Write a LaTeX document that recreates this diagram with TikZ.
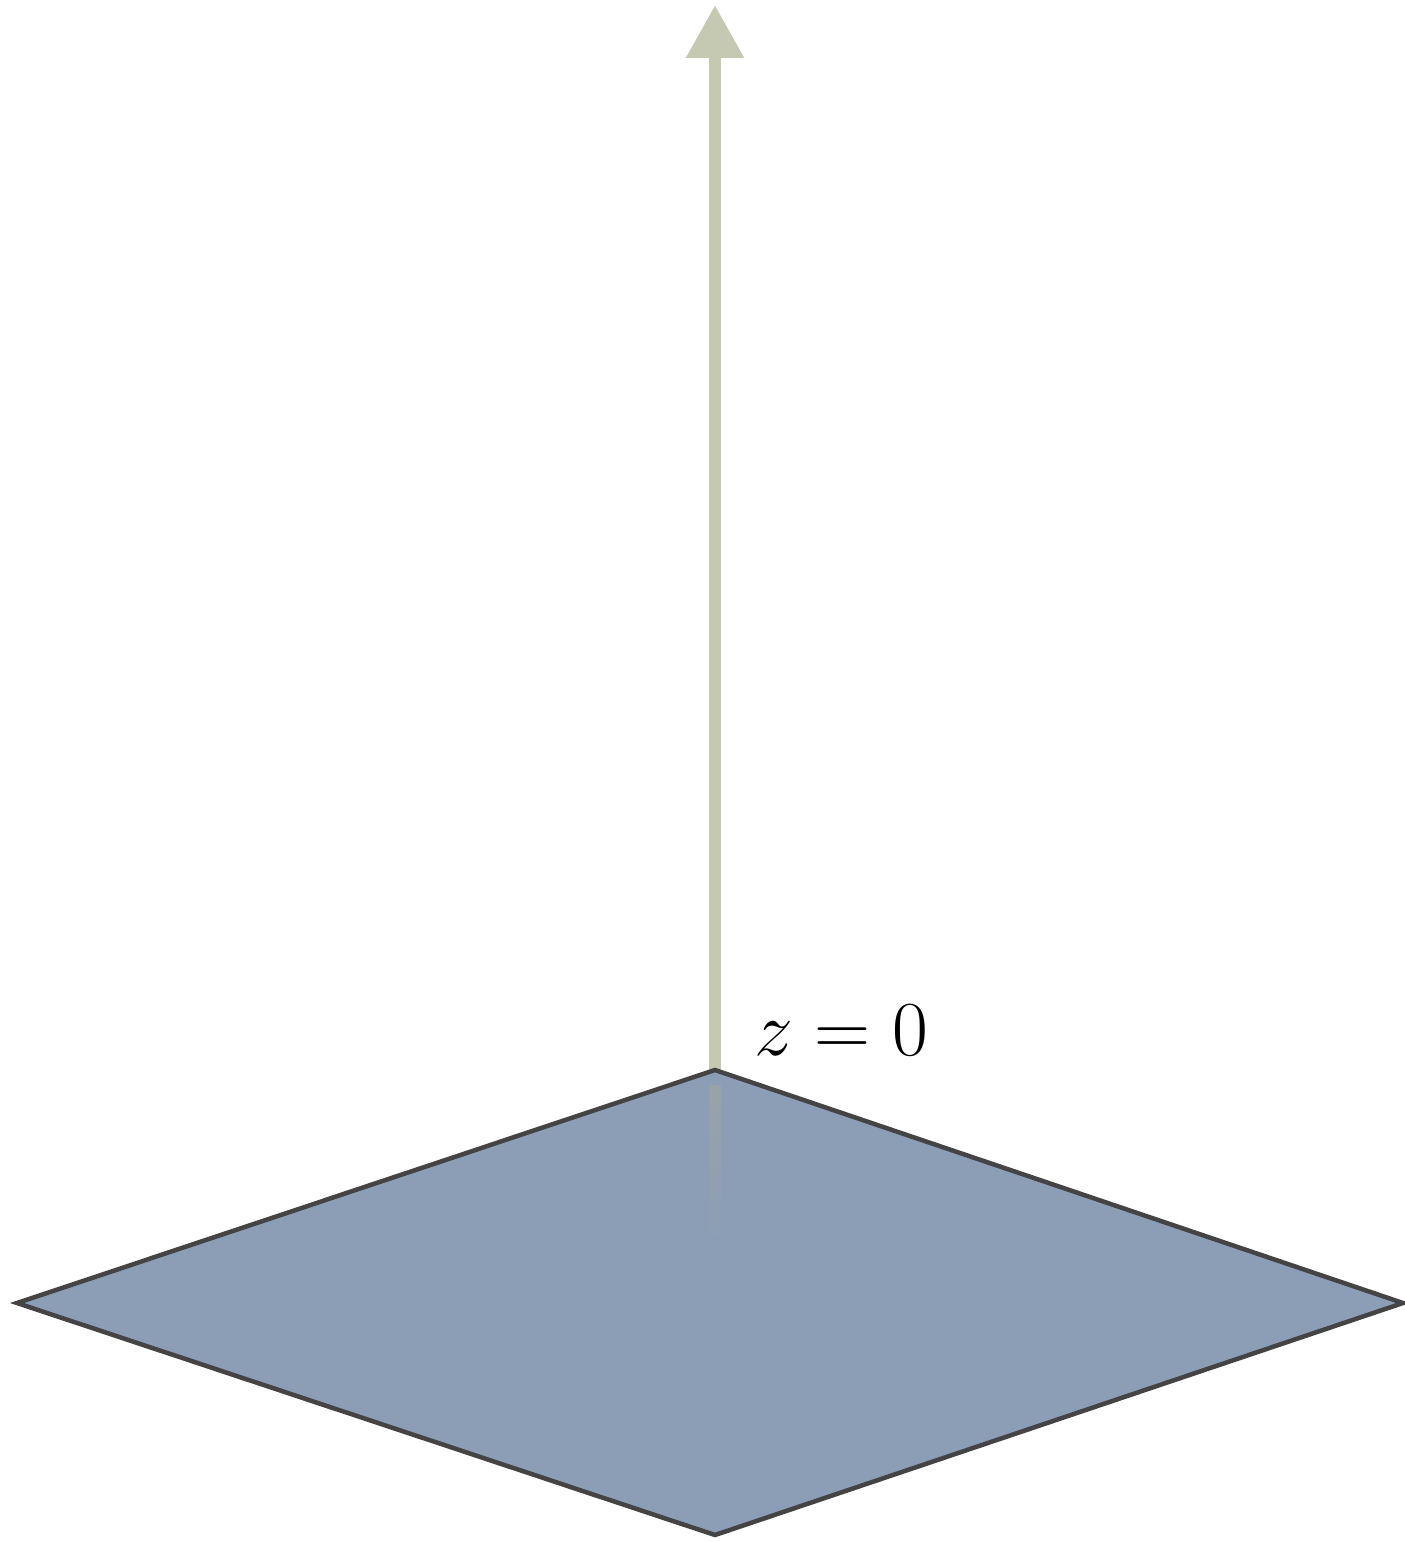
\documentclass[tikz,border=0pt]{standalone}
\usepackage{amsmath}
\usetikzlibrary{arrows.meta}
\definecolor{axisgreen}{HTML}{C6C9B1}
\definecolor{planeblue}{HTML}{8B9EB6}
\definecolor{planeedge}{HTML}{444444}
\definecolor{axisfaint}{HTML}{98A3A8}

\begin{document}
\begin{tikzpicture}[x=0.02cm, y=-0.02cm]
  \useasboundingbox (0,0) rectangle (1405,1542);
  % plane corners
  \coordinate (pn) at (715,1070);
  \coordinate (pw) at (17,1303);
  \coordinate (pe) at (1403,1303);
  \coordinate (ps) at (715,1535);
  \coordinate (tip) at (715,5);
  % plane
  \fill[planeblue] (pn) -- (pe) -- (ps) -- (pw) -- cycle;
  % axis seen through the plane
  \shade[top color=axisfaint, bottom color=planeblue] (709,1085) rectangle (721,1250);
  % axis
  \draw[axisgreen, line width=0.24cm, -{Triangle[width=1.1cm, length=1.06cm]}] (pn) -- (tip);
  \draw[planeedge, line width=0.09cm, line join=miter] (pn) -- (pe) -- (ps) -- (pw) -- cycle;
  \node[font=\Huge] (lbl) at (841,1030) {\scalebox{1.78}{$z=0$}};
\end{tikzpicture}
\end{document}
